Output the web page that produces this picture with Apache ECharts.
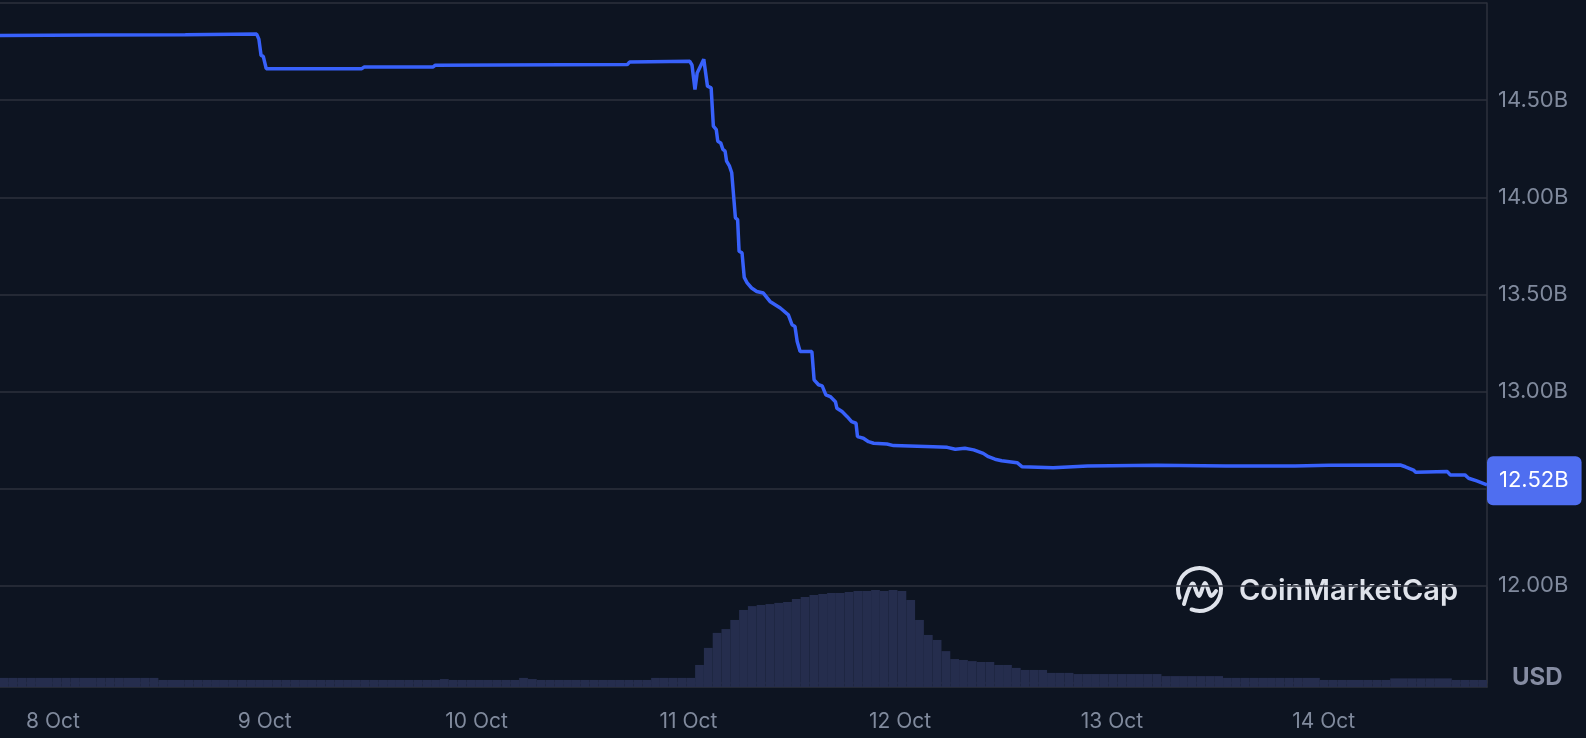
<!DOCTYPE html>
<html>
<head>
<meta charset="utf-8">
<script src="https://cdn.jsdelivr.net/npm/echarts@6.0.0/dist/echarts.min.js"></script>
<style>
  html, body { margin: 0; padding: 0; background: #0d1421; }
  #chart { width: 1586px; height: 738px; }
</style>
</head>
<body>
<div id="chart"></div>
<script>
// ---- Data ----
const capTimes = [
  '10-07 18:00','10-08 05:00','10-08 15:00','10-08 23:05','10-08 23:20','10-08 23:35','10-08 23:50',
  '10-09 00:10','10-09 11:00','10-09 11:15','10-09 19:05','10-09 19:20','10-10 17:05','10-10 17:20',
  '10-11 00:10','10-11 00:25','10-11 00:45','10-11 01:00','10-11 01:45','10-11 02:10','10-11 02:35',
  '10-11 02:50','10-11 03:10','10-11 03:20','10-11 03:40','10-11 03:55','10-11 04:10','10-11 04:20',
  '10-11 04:40','10-11 04:55','10-11 05:05','10-11 05:20','10-11 05:35','10-11 05:45','10-11 06:05',
  '10-11 06:20','10-11 06:40','10-11 07:10','10-11 07:45','10-11 08:30','10-11 09:15','10-11 10:25',
  '10-11 11:20','10-11 11:45','10-11 12:05','10-11 12:20','10-11 12:40','10-11 14:00','10-11 14:15',
  '10-11 14:45','10-11 15:10','10-11 15:35','10-11 16:05','10-11 16:40','10-11 16:50','10-11 17:25',
  '10-11 18:00','10-11 18:30','10-11 19:00','10-11 19:10','10-11 19:50','10-11 20:25','10-11 21:00',
  '10-11 22:30','10-11 23:15','10-12 03:45','10-12 05:20','10-12 06:15','10-12 07:20','10-12 08:20',
  '10-12 09:25','10-12 10:00','10-12 10:45','10-12 11:30','10-12 13:15','10-12 13:50','10-12 17:20',
  '10-12 21:15','10-13 05:05','10-13 12:55','10-13 20:45','10-14 00:35','10-14 08:40','10-14 09:15',
  '10-14 10:10','10-14 10:25','10-14 14:00','10-14 14:20','10-14 16:00','10-14 16:25','10-14 17:20',
  '10-14 18:30'
];
const capValues = [
  14.833,14.835,14.837,14.840,14.814,14.730,14.725,
  14.662,14.662,14.670,14.671,14.680,14.683,14.696,
  14.700,14.680,14.555,14.640,14.710,14.572,14.563,
  14.366,14.348,14.289,14.280,14.246,14.237,14.186,
  14.160,14.126,14.126,13.894,13.885,13.722,13.714,
  13.588,13.559,13.533,13.515,13.507,13.464,13.430,
  13.395,13.344,13.335,13.258,13.206,13.206,13.060,
  13.035,13.029,12.983,12.974,12.948,12.914,12.897,
  12.871,12.845,12.837,12.768,12.760,12.742,12.734,
  12.730,12.722,12.716,12.713,12.703,12.708,12.700,
  12.682,12.665,12.652,12.644,12.634,12.613,12.608,
  12.617,12.621,12.617,12.617,12.621,12.622,12.613,
  12.596,12.585,12.588,12.571,12.571,12.554,12.540,
  12.520
];
// hourly volume (millions USD), first bar at 7 Oct 18:00
const volumeStart = '10-07 18:00';
const volumeValues = [
  200,200,200,200,200,200,200,200,200,200,200,200,200,200,200,200,200,200,
  155,155,155,155,155,155,155,155,155,155,155,155,155,155,155,155,
  155,155,155,155,155,155,155,155,155,155,155,155,155,155,155,155,
  175,
  155,155,155,155,155,155,155,155,
  200,175,
  155,155,155,155,155,155,155,155,155,155,155,155,
  155,
  200,200,200,200,200,
  485,860,1190,1275,1475,1695,1780,1805,1825,1850,1870,1935,1980,2025,2045,2070,2070,2090,2110,2110,2135,2110,2135,2110,
  1915,1475,1145,1035,790,615,595,570,550,550,485,485,420,375,375,375,310,310,310,
  285,285,285,285,285,285,285,285,285,285,
  240,240,240,240,240,240,240,
  200,200,200,200,200,200,200,200,200,200,200,
  155,155,155,155,155,155,155,155,
  190,190,190,190,190,190,190,
  155,155,155,155
];
const xTickLabels = ['8 Oct','9 Oct','10 Oct','11 Oct','12 Oct','13 Oct','14 Oct'];
const yTickValues = [12.0, 12.5, 13.0, 13.5, 14.0, 14.5];
const yTickLabels = ['12.00B','12.50B','13.00B','13.50B','14.00B','14.50B'];
const currency = 'USD';
const brand = 'CoinMarketCap';

// ---- helpers ----
function toTime(s) {
  const [md, hm] = s.split(' ');
  const [mo, d] = md.split('-').map(Number);
  const [h, mi] = hm.split(':').map(Number);
  return new Date(2025, mo - 1, d, h, mi).getTime();
}
const capData = capTimes.map((t, i) => [toTime(t), capValues[i]]);
const HOUR = 3600000, DAY = 86400000;
const vStart = toTime(volumeStart);
const volCategories = volumeValues.map((v, i) => String(vStart + i * HOUR));
const xMin = toTime(capTimes[0]);
const xMax = toTime(capTimes[capTimes.length - 1]);
const firstTickDay = new Date(2025, 9, 8).getTime();
const lastValue = capValues[capValues.length - 1];

const grey = '#808a9d';
const lineCol = '#2c303c';

const chart = echarts.init(document.getElementById('chart'), null, { renderer: 'canvas' });
chart.setOption({
  backgroundColor: '#0d1421',
  animation: false,
  textStyle: { fontFamily: 'Inter' },
  grid: [
    { left: 0, right: 99, top: 3, height: 680 },
    { left: 0, right: 99, top: 587, height: 100 }
  ],
  xAxis: [
    { type: 'time', gridIndex: 0, min: xMin, max: xMax,
      minInterval: DAY, maxInterval: DAY,
      axisLine: { show: false }, axisTick: { show: false }, splitLine: { show: false },
      axisLabel: {
        color: grey, fontSize: 21, fontFamily: 'Inter', margin: 28,
        showMinLabel: false, showMaxLabel: false,
        formatter: function (v) {
          const d = new Date(v);
          if (d.getHours() !== 0 || d.getMinutes() !== 0) return '';
          const idx = Math.round((v - firstTickDay) / DAY);
          return xTickLabels[idx] || '';
        }
      } },
    { type: 'category', gridIndex: 1, data: volCategories, boundaryGap: true,
      axisLine: { show: true, lineStyle: { color: lineCol, width: 1.5 } },
      axisTick: { show: false }, axisLabel: { show: false }, splitLine: { show: false } }
  ],
  yAxis: [
    { type: 'value', gridIndex: 0, position: 'right', min: 11.5, max: 15.0, interval: 0.5,
      axisLine: { show: true, lineStyle: { color: lineCol, width: 1.5 } },
      axisTick: { show: false },
      splitLine: { show: true, lineStyle: { color: lineCol, width: 1.5 } },
      axisLabel: {
        color: grey, fontSize: 22, fontFamily: 'Inter', margin: 11,
        formatter: function (v) {
          const i = yTickValues.findIndex(t => Math.abs(t - v) < 1e-6);
          return i >= 0 ? yTickLabels[i] : '';
        }
      } },
    { type: 'value', gridIndex: 1, position: 'right', min: 0, max: 2200,
      axisLine: { show: true, lineStyle: { color: lineCol, width: 1.5 } },
      axisTick: { show: false }, axisLabel: { show: false }, splitLine: { show: false } }
  ],
  series: [
    { type: 'bar', xAxisIndex: 1, yAxisIndex: 1, data: volumeValues, barWidth: '100%',
      itemStyle: { color: '#252d4d' }, z: 1 },
    { type: 'line', xAxisIndex: 0, yAxisIndex: 0, data: capData, showSymbol: false,
      lineStyle: { color: '#3861fb', width: 3.5 }, z: 3,
      markLine: {
        silent: true, symbol: 'none',
        lineStyle: { color: 'rgba(0,0,0,0)', width: 0, type: 'solid' },
        label: {
          show: true, position: 'end', distance: 0, offset: [0, -4],
          formatter: lastValue.toFixed(2) + 'B',
          color: '#ffffff', fontSize: 22, fontFamily: 'Inter', lineHeight: 25,
          backgroundColor: '#4f6ef0', borderRadius: 6, padding: [12, 13, 12, 12]
        },
        data: [{ yAxis: lastValue }]
      } }
  ],
  graphic: [
    { type: 'text', left: 1512, top: 666, z: 10,
      style: { text: currency, fill: '#858ca2', font: 'bold 24px Inter' } },
    { type: 'group', z: 10, children: [
      { type: 'arc', shape: { cx: 1199.5, cy: 589.5, r: 21.5, startAngle: 2.75, endAngle: 1.95 + Math.PI * 2, clockwise: true },
        style: { stroke: '#dfe3eb', lineWidth: 4, fill: null, lineCap: 'round' } },
      { type: 'polyline', shape: { points: [[1184, 604], [1192.5, 583.5], [1199, 596], [1205, 583], [1211, 596], [1216, 591]], smooth: 0.35 },
        style: { stroke: '#dfe3eb', lineWidth: 4, fill: null, lineCap: 'round', lineJoin: 'round' } },
      { type: 'text', x: 1239, y: 591,
        style: { text: brand, fill: '#dfe3eb', font: '600 29px Inter', textVerticalAlign: 'middle' } }
    ] }
  ]
});
</script>
</body>
</html>
